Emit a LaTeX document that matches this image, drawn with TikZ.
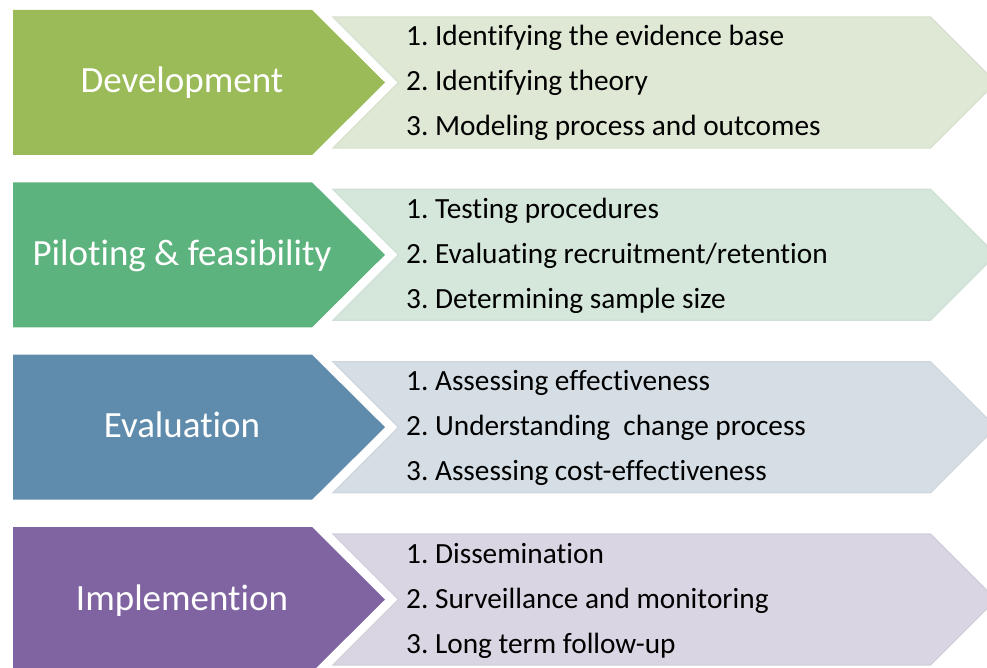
\documentclass[tikz,border=0pt]{standalone}
\usepackage{fontspec}
\setmainfont[Ligatures=NoCommon]{Carlito}
\definecolor{dA}{HTML}{9BBB59}
\definecolor{lA}{HTML}{DFE8D4}
\definecolor{dB}{HTML}{5CB37D}
\definecolor{lB}{HTML}{D5E7DB}
\definecolor{dC}{HTML}{5F8BAC}
\definecolor{lC}{HTML}{D5DEE5}
\definecolor{dD}{HTML}{8064A2}
\definecolor{lD}{HTML}{D9D5E2}
\newcommand{\myrow}[8]{%
  \filldraw[fill=#4, draw=#4!97!black, line width=1.2pt, line join=miter]
    (333,{#1+7}) -- (930.5,{#1+7}) -- (996,{#1+72.5}) -- (930.5,{#1+138})
    -- (333,{#1+138}) -- (398.5,{#1+72.5}) -- cycle;
  \fill[#3] (13,{#1}) -- (312,{#1}) -- (385,{#1+72.5}) -- (312,{#1+145})
    -- (13,{#1+145}) -- cycle;
  \node[lbl] (#2lbl) at (182,{#1+83}) {#5};
  \node[item] (#2a) at (406,{#1+36}) {#6};
  \node[item] (#2b) at (406,{#1+81}) {#7};
  \node[item] (#2c) at (406,{#1+126}) {#8};
}
\frenchspacing
\begin{document}
\begin{tikzpicture}[x=1pt,y=-1pt,
  lbl/.style={text=white, font=\fontsize{37}{41}\selectfont, anchor=base, inner sep=0pt},
  item/.style={text=black, font=\fontsize{29.3}{33}\selectfont, anchor=base west, inner sep=0pt}]
\useasboundingbox (0,0) rectangle (987,668);
\clip (0,0) rectangle (987,668);
\fill[white] (0,0) rectangle (987,668);
\myrow{10}{dev}{dA}{lA}{Development}{1. Identifying the evidence base}{2. Identifying theory}{3. Modeling process and outcomes}
\myrow{182.3}{pil}{dB}{lB}{Piloting \& feasibility}{1. Testing procedures}{2. Evaluating recruitment/retention}{3. Determining sample size}
\myrow{354.7}{eva}{dC}{lC}{Evaluation}{1. Assessing effectiveness}{2. Understanding~ change process}{3. Assessing cost-effectiveness}
\myrow{527}{imp}{dD}{lD}{Implemention}{1. Dissemination}{2. Surveillance and monitoring}{3. Long term follow-up}
\end{tikzpicture}
\end{document}
